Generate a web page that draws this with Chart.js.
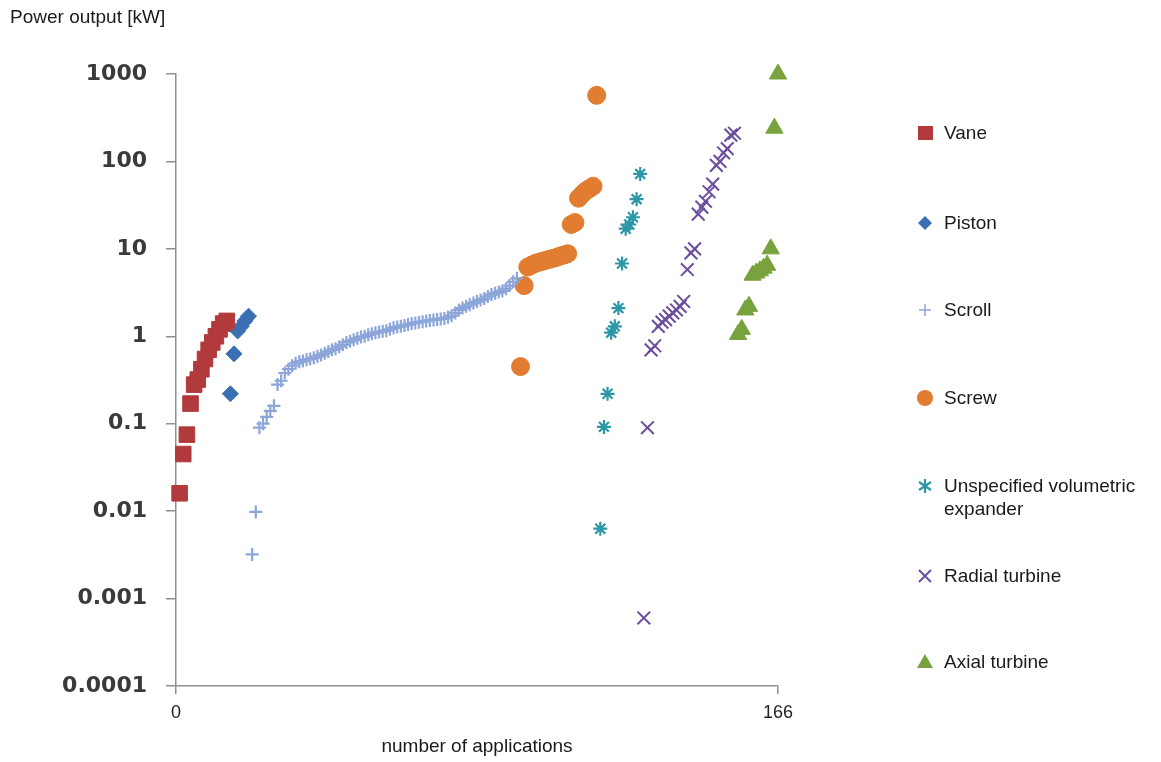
<!DOCTYPE html>
<html lang="en">
<head>
<meta charset="UTF-8" />
<title>Power output by expander type</title>
<script src="https://cdn.jsdelivr.net/npm/chart.js"></script>
<style>
  body { margin: 0; background: #fff; font-family: "Liberation Sans", Arial, sans-serif; color: #1a1a1a; }
  #wrap { position: relative; width: 1161px; height: 762px; }
  #chart { position: absolute; left: 0; top: 0; }
  .ytitle { position: absolute; left: 10px; top: 6px; font-size: 19px; }
  .item { position: absolute; left: 915px; font-size: 19px; line-height: 23px; display: flex; align-items: flex-start; }
  .item svg { width: 20px; height: 20px; margin-top: 2px; flex: none; }
  .item span { margin-left: 9px; }
</style>
</head>
<body>
<div id="wrap">
  <canvas id="chart" width="1161" height="762"></canvas>
  <div class="ytitle">Power output [kW]</div>
  <div id="legend"></div>
</div>
<script>
  // series names, in plotting order
  const seriesNames = ["Vane", "Piston", "Scroll", "Screw",
    "Unspecified volumetric expander", "Radial turbine", "Axial turbine"];

  // first application number of each series (applications are ranked 1..166)
  const firstRank = [1, 15, 21, 95, 117, 129, 155];

  // power output in kW
  const vaneKW = [0.016, 0.045, 0.075, 0.17, 0.28, 0.32, 0.42, 0.55, 0.7, 0.85, 1.0, 1.2, 1.4, 1.5];
  const pistonKW = [0.22, 0.63, 1.15, 1.3, 1.5, 1.7];
  const scrollKW = [0.0032, 0.0098, 0.09, 0.1, 0.12, 0.14, 0.16, 0.28, 0.31, 0.38,
    0.42, 0.46, 0.49, 0.51, 0.52, 0.54, 0.55, 0.57, 0.59, 0.61,
    0.64, 0.67, 0.7, 0.72, 0.76, 0.8, 0.85, 0.88, 0.91, 0.95,
    0.98, 1.0, 1.04, 1.07, 1.1, 1.12, 1.14, 1.16, 1.2, 1.25,
    1.28, 1.3, 1.33, 1.36, 1.4, 1.42, 1.45, 1.47, 1.5, 1.52,
    1.54, 1.56, 1.58, 1.6, 1.65, 1.72, 1.85, 2.0, 2.1, 2.2,
    2.3, 2.4, 2.5, 2.6, 2.7, 2.85, 3.0, 3.1, 3.2, 3.3,
    3.5, 3.8, 4.2, 4.6];
  const screwKW = [0.45, 3.8, 6.2, 6.5, 6.8, 7.0, 7.2, 7.4, 7.6, 7.8, 8.0, 8.3, 8.5, 8.8,
    19, 20, 38, 42, 46, 49, 52, 570];
  const unspecKW = [0.0063, 0.092, 0.22, 1.1, 1.3, 2.1, 6.8, 17, 19, 23, 37, 72];
  const radialKW = [0.0006, 0.09, 0.7, 0.78, 1.3, 1.45, 1.55, 1.7, 1.85, 2.0, 2.2, 2.5,
    5.8, 9, 10, 25, 30, 35, 45, 55, 90, 100, 125, 140, 200, 210];
  const axialKW = [1.05, 1.2, 2.0, 2.2, 5.0, 5.3, 5.6, 6.0, 6.5, 10, 240, 1000];

  const yTicks = [1000, 100, 10, 1, 0.1, 0.01, 0.001, 0.0001];
  const xTicks = [0, 166];

  const allKW = [vaneKW, pistonKW, scrollKW, screwKW, unspecKW, radialKW, axialKW];

  const styles = [
    { pointStyle: "rect", radius: 11, color: "#b23a3c", width: 1 },
    { pointStyle: "rectRot", radius: 8, color: "#3b6fb3", width: 1 },
    { pointStyle: "cross", radius: 6.5, color: "#8ca6d9", width: 2.2 },
    { pointStyle: "circle", radius: 9, color: "#e27c30", width: 1 },
    { pointStyle: "star", radius: 7, color: "#2e97a7", width: 2.2 },
    { pointStyle: "crossRot", radius: 9, color: "#6c4e9e", width: 2 },
    { pointStyle: "triangle", radius: 10, color: "#78a23d", width: 1 },
  ];

  const datasets = allKW.map((vals, i) => ({
    label: seriesNames[i],
    data: vals.map((v, k) => ({ x: firstRank[i] + k, y: v })),
    pointStyle: styles[i].pointStyle,
    pointRadius: styles[i].radius,
    backgroundColor: styles[i].color,
    borderColor: styles[i].color,
    borderWidth: styles[i].width,
    showLine: false,
    clip: false,
  }));

  const axisGray = "#8f8f8f";

  new Chart(document.getElementById("chart").getContext("2d"), {
    type: "scatter",
    data: { datasets },
    options: {
      responsive: false,
      animation: false,
      layout: { padding: { top: 74, right: 383, left: 0, bottom: 0 } },
      plugins: { legend: { display: false }, tooltip: { enabled: false } },
      scales: {
        x: {
          type: "linear",
          min: 0,
          max: 166,
          afterBuildTicks: (s) => { s.ticks = xTicks.map((v) => ({ value: v })); },
          afterFit: (s) => { s.height = 76; },
          grid: { drawOnChartArea: false, tickLength: 8, color: axisGray, lineWidth: 1.5 },
          border: { color: axisGray, width: 1.5 },
          ticks: {
            padding: 8, maxRotation: 0, autoSkip: false, color: "#222",
            font: { family: "Liberation Sans", size: 18 },
          },
          title: {
            display: true, text: "number of applications", color: "#1a1a1a",
            font: { family: "Liberation Sans", size: 19 }, padding: { top: 0, bottom: 4 },
          },
        },
        y: {
          type: "logarithmic",
          min: 0.0001,
          max: 1000,
          afterBuildTicks: (s) => { s.ticks = yTicks.map((v) => ({ value: v })); },
          afterFit: (s) => { s.width = 176; },
          grid: { drawOnChartArea: false, tickLength: 10, color: axisGray, lineWidth: 1.5 },
          border: { color: axisGray, width: 1.5 },
          ticks: {
            padding: 19, autoSkip: false, color: "#3a3a3a",
            font: { family: "DejaVu Sans", size: 22, weight: "bold" },
            callback: (v) => String(v),
          },
        },
      },
    },
  });

  // legend on the right
  const legendTop = [121, 211, 298, 386, 474, 564, 650];
  const markers = [
    '<rect x="3" y="3" width="15" height="14" fill="#b23a3c"/>',
    '<polygon points="10,3 17,10 10,17 3,10" fill="#3b6fb3"/>',
    '<path d="M4 10H16M10 4V16" stroke="#8ca6d9" stroke-width="1.5"/>',
    '<circle cx="10" cy="10" r="8" fill="#e27c30"/>',
    '<path d="M10 3V17M4 6L16 14M4 14L16 6" stroke="#2e97a7" stroke-width="2.2"/>',
    '<path d="M4 4L16 16M16 4L4 16" stroke="#6c4e9e" stroke-width="2"/>',
    '<polygon points="10,2 18,16 2,16" fill="#78a23d"/>',
  ];
  const legendText = ["Vane", "Piston", "Scroll", "Screw",
    "Unspecified volumetric<br>expander", "Radial turbine", "Axial turbine"];
  const legend = document.getElementById("legend");
  legendText.forEach((t, i) => {
    const d = document.createElement("div");
    d.className = "item";
    d.style.top = legendTop[i] + "px";
    d.innerHTML = '<svg viewBox="0 0 20 20">' + markers[i] + "</svg><span>" + t + "</span>";
    legend.appendChild(d);
  });
</script>
</body>
</html>
